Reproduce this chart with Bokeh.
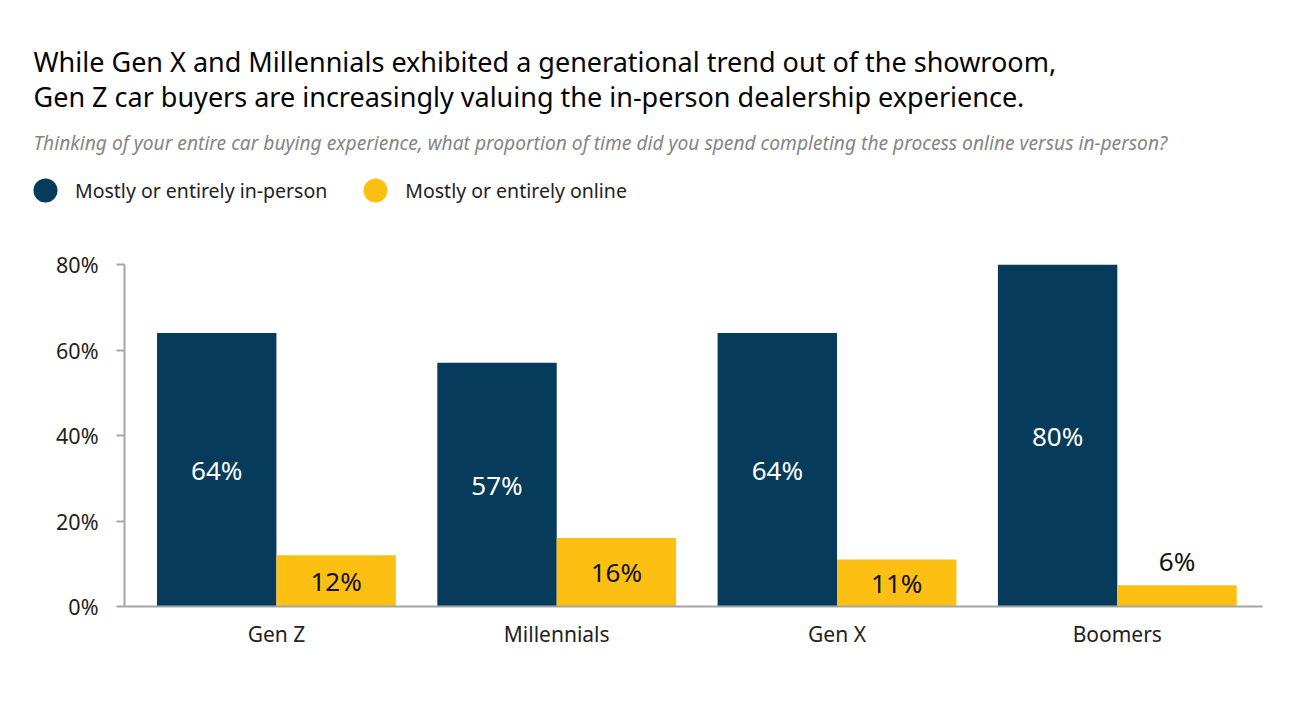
from bokeh.plotting import figure
from bokeh.layouts import column
from bokeh.models import (ColumnDataSource, Range1d, FixedTicker, PrintfTickFormatter,
                          Label, Legend, LegendItem)
from bokeh.transform import dodge
from bokeh.core.properties import value
from bokeh.embed import file_html
from bokeh.resources import INLINE

# ---- data ----
generations = ["Gen Z", "Millennials", "Gen X", "Boomers"]
in_person = [64, 57, 64, 80]
online = [12, 16, 11, 5]
in_person_labels = ["64%", "57%", "64%", "80%"]
online_labels = ["12%", "16%", "11%", "6%"]
y_ticks = [0, 20, 40, 60, 80]
series_names = ["Mostly or entirely in-person", "Mostly or entirely online"]

title_lines = [
    "While Gen X and Millennials exhibited a generational trend out of the showroom,",
    "Gen Z car buyers are increasingly valuing the in-person dealership experience.",
]
subtitle = ("Thinking of your entire car buying experience, what proportion of time did you "
            "spend completing the process online versus in-person?")

# ---- style ----
NAVY = "#063b5b"
GOLD = "#fdbf12"
AXIS = "#a6a6a6"
FONT = "Noto Sans"
BAR_W = 0.426
OFF = 0.213
W = 1290
HEAD_H = 240

# ================= header (title, subtitle, legend) =================
head = figure(width=W, height=HEAD_H, x_range=Range1d(0, W), y_range=Range1d(HEAD_H, 0),
              x_axis_location=None, y_axis_location=None, min_border=0,
              output_backend="svg", toolbar_location=None)
head.frame_align = False
head.outline_line_color = None
head.xgrid.visible = False
head.ygrid.visible = False

for txt, yy in zip(title_lines, [61, 96]):
    head.add_layout(Label(x=33, y=yy, text=txt, text_font=FONT, text_font_size="27px",
                          text_color="#050505", text_baseline="alphabetic"))
head.add_layout(Label(x=33, y=141.5, text=subtitle, text_font=FONT, text_font_size="19.2px",
                      text_font_style="italic", text_color="#858585",
                      text_baseline="alphabetic"))

# legend swatch renderers (their single point lies outside the visible header area)
d1 = head.scatter(x=[-100], y=[-100], marker="circle", fill_color=NAVY, line_color=None)
d2 = head.scatter(x=[-100], y=[-100], marker="circle", fill_color=GOLD, line_color=None)
legend = Legend(items=[LegendItem(label=series_names[0], renderers=[d1]),
                       LegendItem(label=series_names[1], renderers=[d2])],
                orientation="horizontal", location=(15, HEAD_H - 220),
                glyph_width=60, glyph_height=60, label_standoff=-3, spacing=18,
                padding=0, margin=0, border_line_color=None, background_fill_alpha=0,
                label_text_font=FONT, label_text_font_size="19.5px",
                label_text_color="#222222", label_text_baseline="middle")
head.add_layout(legend, "center")

# ================= chart =================
x = list(range(len(generations)))
src = ColumnDataSource(dict(
    x=x, in_person=in_person, online=online,
    ip_mid=[v / 2 for v in in_person], ip_lab=in_person_labels,
))
inside = [i for i, v in enumerate(online) if v >= 8]
outside = [i for i, v in enumerate(online) if v < 8]
src_on_in = ColumnDataSource(dict(x=[x[i] for i in inside],
                                  y=[online[i] / 2 for i in inside],
                                  lab=[online_labels[i] for i in inside]))
src_on_out = ColumnDataSource(dict(x=[x[i] for i in outside],
                                   y=[online[i] for i in outside],
                                   lab=[online_labels[i] for i in outside]))

p = figure(width=W, height=460, x_range=Range1d(-0.542, 3.518), y_range=Range1d(0, 80),
           output_backend="svg", toolbar_location=None,
           min_border_left=124, min_border_right=28, min_border_top=24, min_border_bottom=94)
p.frame_align = False
p.outline_line_color = None
p.xgrid.grid_line_color = None
p.ygrid.grid_line_color = None

p.vbar(x=dodge("x", -OFF), top="in_person", width=BAR_W, source=src,
       fill_color=NAVY, line_color=None)
p.vbar(x=dodge("x", OFF), top="online", width=BAR_W, source=src,
       fill_color=GOLD, line_color=None)

p.text(x=dodge("x", -OFF), y="ip_mid", text="ip_lab", source=src,
       text_font=value(FONT), text_font_size="26px", text_color="white",
       text_align="center", text_baseline="middle")
p.text(x=dodge("x", OFF), y="y", text="lab", source=src_on_in,
       text_font=value(FONT), text_font_size="26px", text_color="#111111",
       text_align="center", text_baseline="middle")
p.text(x=dodge("x", OFF), y="y", text="lab", source=src_on_out,
       text_font=value(FONT), text_font_size="26px", text_color="#111111",
       text_align="center", text_baseline="bottom", y_offset=-6)

# axes
p.xaxis.ticker = FixedTicker(ticks=x)
p.xaxis.major_label_overrides = {i: g for i, g in zip(x, generations)}
p.xaxis.major_tick_line_color = None
p.xaxis.minor_tick_line_color = None
p.xaxis.axis_line_color = AXIS
p.xaxis.axis_line_width = 2
p.xaxis.major_label_text_font = FONT
p.xaxis.major_label_text_font_size = "21px"
p.xaxis.major_label_text_color = "#222222"
p.xaxis.major_label_standoff = 7

p.yaxis.ticker = FixedTicker(ticks=y_ticks)
p.yaxis.formatter = PrintfTickFormatter(format="%d%%")
p.yaxis.minor_tick_line_color = None
p.yaxis.axis_line_color = AXIS
p.yaxis.axis_line_width = 2
p.yaxis.major_tick_line_color = AXIS
p.yaxis.major_tick_line_width = 2
p.yaxis.major_tick_in = 0
p.yaxis.major_tick_out = 8
p.yaxis.major_label_text_font = FONT
p.yaxis.major_label_text_font_size = "21.5px"
p.yaxis.major_label_text_color = "#222222"
p.yaxis.major_label_standoff = 18

layout = column(head, p, spacing=0)
open("out.html", "w").write(file_html(layout, INLINE))
